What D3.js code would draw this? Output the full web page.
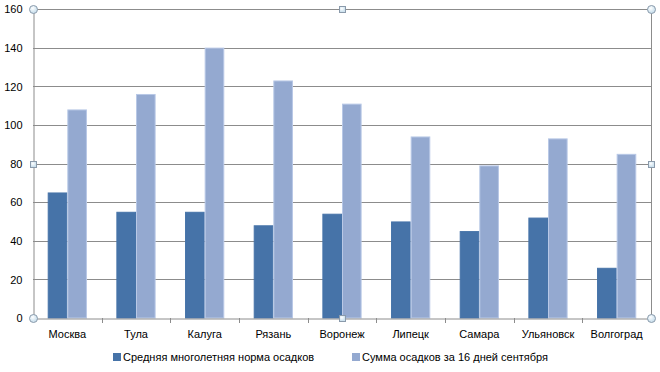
<!DOCTYPE html>
<html>
<head>
<meta charset="utf-8">
<script src="https://cdn.jsdelivr.net/npm/d3@7"></script>
<style>
  body { margin: 0; background: #fff; }
  text { font-family: "Liberation Sans", Arial, sans-serif; fill: #000; }
</style>
</head>
<body>
<svg id="chart" width="660" height="372"></svg>
<script>
const cities = ["Москва", "Тула", "Калуга", "Рязань", "Воронеж", "Липецк", "Самара", "Ульяновск", "Волгоград"];
const normValues = [65, 55, 55, 48, 54, 50, 45, 52, 26];
const septValues = [108, 116, 140, 123, 111, 94, 79, 93, 85];
const seriesNames = ["Средняя многолетняя норма осадков", "Сумма осадков за 16 дней сентября"];
const yTicks = [0, 20, 40, 60, 80, 100, 120, 140, 160];

const width = 660, height = 372;
const margin = {top: 9, right: 9, bottom: 54, left: 33};
const colors = ["#4673a8", "#94a9d0"];
const borders = ["#4673a8", "#b8c8e6"];

const svg = d3.select("#chart");

const x = d3.scaleBand()
    .domain(cities)
    .range([margin.left, width - margin.right])
    .paddingInner(0)
    .paddingOuter(0);

const y = d3.scaleLinear()
    .domain([0, 160])
    .range([height - margin.bottom, margin.top]);

// gridlines
svg.append("g")
    .selectAll("line")
    .data(yTicks.slice(1))
    .join("line")
    .attr("x1", margin.left)
    .attr("x2", width - margin.right)
    .attr("y1", d => Math.round(y(d)) + 0.5)
    .attr("y2", d => Math.round(y(d)) + 0.5)
    .attr("stroke", "#8c8c8c")
    .attr("stroke-width", 1);

// right border
svg.append("line")
    .attr("x1", width - margin.right + 0.5)
    .attr("x2", width - margin.right + 0.5)
    .attr("y1", margin.top)
    .attr("y2", height - margin.bottom)
    .attr("stroke", "#8c8c8c");

// bars
const group = d3.scaleBand()
    .domain([0, 1])
    .range([0, x.bandwidth()])
    .paddingOuter(0.75)
    .paddingInner(0);

[normValues, septValues].forEach((vals, s) => {
    svg.append("g")
        .selectAll("rect")
        .data(vals)
        .join("rect")
        .attr("x", (d, i) => x(cities[i]) + group(s) + 0.5)
        .attr("y", d => y(d) + 0.5)
        .attr("width", group.bandwidth() - 1)
        .attr("height", d => y(0) - y(d) - 0.5)
        .attr("fill", colors[s])
        .attr("stroke", borders[s])
        .attr("stroke-width", 1);
});

// y axis
const yAxis = svg.append("g")
    .attr("transform", `translate(${margin.left + 0.5},0)`)
    .call(d3.axisLeft(y).tickValues(yTicks).tickSize(0).tickPadding(11));
yAxis.select(".domain").attr("stroke", "#8c8c8c");
yAxis.selectAll("text").style("font-size", "11px").attr("dy", "0.35em");

// x axis
const xAxis = svg.append("g")
    .attr("transform", `translate(0,${Math.round(y(0)) + 0.5})`)
    .call(d3.axisBottom(x).tickSize(0).tickPadding(12));
xAxis.select(".domain").attr("stroke", "#8c8c8c");
xAxis.selectAll("text").style("font-size", "11px");

// category boundary ticks
svg.append("g")
    .selectAll("line")
    .data(cities.slice(1))
    .join("line")
    .attr("x1", d => Math.round(x(d)) + 0.5)
    .attr("x2", d => Math.round(x(d)) + 0.5)
    .attr("y1", y(0))
    .attr("y2", y(0) + 5)
    .attr("stroke", "#8c8c8c");

// legend
const legendX = [113, 352];
const legend = svg.append("g")
    .selectAll("g")
    .data(seriesNames)
    .join("g")
    .attr("transform", (d, i) => `translate(${legendX[i]},353)`);
legend.append("rect")
    .attr("width", 8)
    .attr("height", 8)
    .attr("fill", (d, i) => colors[i]);
legend.append("text")
    .attr("x", 10)
    .attr("y", 4)
    .attr("dy", "0.35em")
    .style("font-size", "11px")
    .text(d => d);

// selection handles
const x0 = margin.left, x1 = width - margin.right, xm = (x0 + x1) / 2;
const y0 = margin.top, y1 = y(0), ym = (y0 + y1) / 2;
const defs = svg.append("defs");
const grad = defs.append("radialGradient").attr("id", "hg").attr("cx", "40%").attr("cy", "35%");
grad.append("stop").attr("offset", "0%").attr("stop-color", "#ffffff");
grad.append("stop").attr("offset", "100%").attr("stop-color", "#cfe3ef");

const circles = [[x0, y0], [x1, y0], [x0, y1], [x1, y1]];
svg.append("g")
    .selectAll("circle")
    .data(circles)
    .join("circle")
    .attr("cx", d => d[0] + 0.5)
    .attr("cy", d => d[1] + 0.5)
    .attr("r", 4)
    .attr("fill", "url(#hg)")
    .attr("stroke", "#8a9aab");

const squares = [[xm, y0], [x0, ym], [x1, ym], [xm, y1]];
svg.append("g")
    .selectAll("rect")
    .data(squares)
    .join("rect")
    .attr("x", d => Math.round(d[0]) - 3 + 0.5)
    .attr("y", d => Math.round(d[1]) - 3 + 0.5)
    .attr("width", 6)
    .attr("height", 6)
    .attr("fill", "url(#hg)")
    .attr("stroke", "#8a9aab");
</script>
</body>
</html>
